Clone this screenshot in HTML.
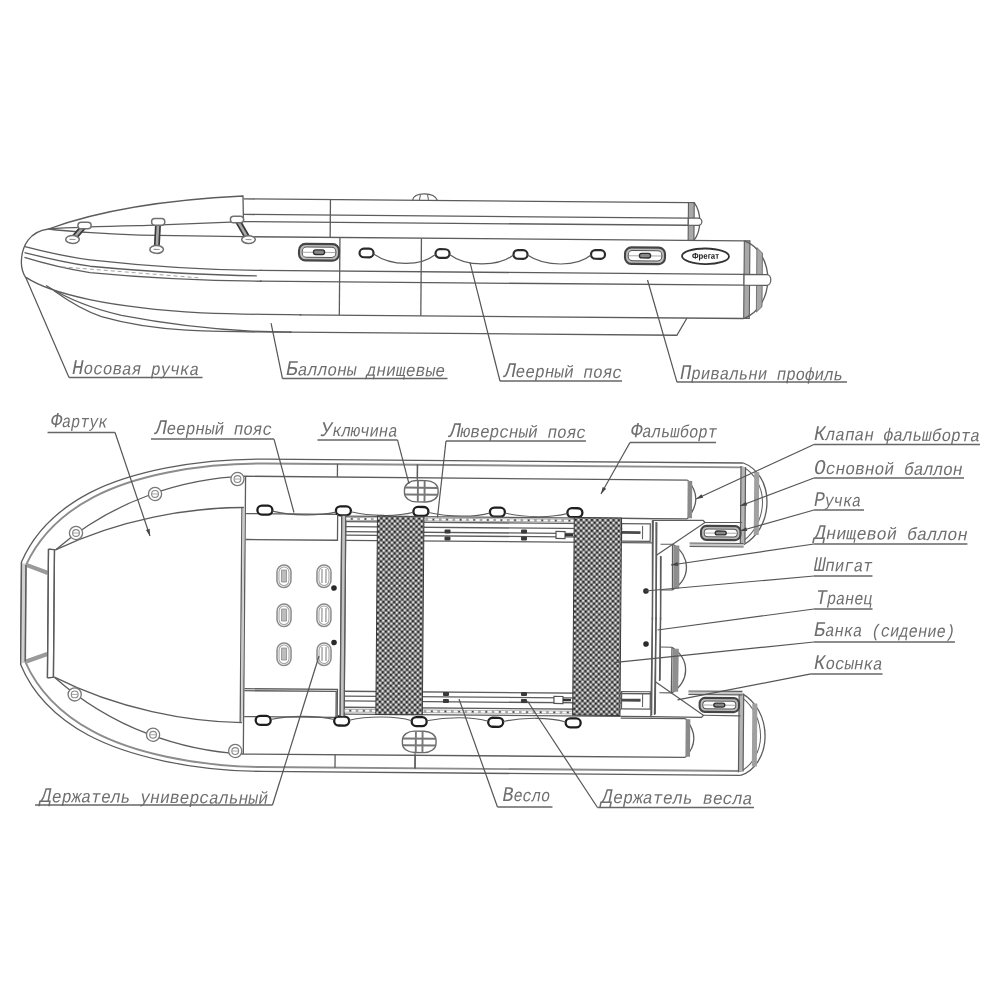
<!DOCTYPE html>
<html><head><meta charset="utf-8"><style>
html,body{margin:0;padding:0;background:#fff;width:1000px;height:1000px;overflow:hidden}
svg{display:block;filter:blur(0.35px)}
svg{font-family:"Liberation Sans",sans-serif}
.lb text{font-family:"Liberation Mono",monospace}
</style></head><body>
<svg width="1000" height="1000" viewBox="0 0 1000 1000">
<defs>
<pattern id="mesh" width="5.4" height="5.4" patternUnits="userSpaceOnUse">
<rect width="5.4" height="5.4" fill="#808080"/>
<rect x="0" y="0" width="1.6" height="1.6" fill="#f6f6f6"/>
<rect x="2.7" y="2.7" width="1.6" height="1.6" fill="#f6f6f6"/>
<rect x="2.7" y="0" width="1.6" height="1.6" fill="#1c1c1c"/>
<rect x="0" y="2.7" width="1.6" height="1.6" fill="#1c1c1c"/>
</pattern>
</defs>
<g transform="rotate(0.47 500 500)"><g><path d="M241 201 L686 201" stroke="#5c5c5c" stroke-width="1.3" fill="none" /><path d="M241 216.5 L686 216.5" stroke="#5c5c5c" stroke-width="1.3" fill="none" /><path d="M240 223.7 L686 223.7" stroke="#5c5c5c" stroke-width="1.3" fill="none" /><path d="M241 238.8 L742.2 238.8" stroke="#5c5c5c" stroke-width="1.3" fill="none" /><path d="M258 272.4 L742.2 272.4" stroke="#5c5c5c" stroke-width="1.3" fill="none" /><path d="M258 283.2 L742.2 283.2" stroke="#5c5c5c" stroke-width="1.3" fill="none" /><path d="M298 316.5 L742.2 316.5" stroke="#5c5c5c" stroke-width="1.3" fill="none" /><path d="M288 333.8 L675.5 333.8 L685.5 316.5" stroke="#5c5c5c" stroke-width="1.3" fill="none" /><rect x="686" y="201" width="5.8" height="37.8" fill="#a8a8a8" stroke="#5c5c5c" stroke-width="1.1"/><path d="M691.8 201 C695.5 206 697.5 212 697.5 219.9 C697.5 228 695.5 234 691.8 238.8" stroke="#5c5c5c" stroke-width="1.3" fill="none" /><path d="M686 216.5 L696 216.5 A3.6 3.6 0 0 1 696 223.7 L686 223.7 Z" fill="#fff" stroke="#5c5c5c" stroke-width="1.2"/><path d="M328 201 L328 238.8" stroke="#5c5c5c" stroke-width="1.3" fill="none" /><path d="M410 201 C411 196 415 194.5 422 194.5 C429 194.5 433 196 435 201" stroke="#5c5c5c" stroke-width="1.1" fill="none" /><path d="M418 195 L417 200.5 M425 195 L426 200.5" stroke="#5c5c5c" stroke-width="1.0" fill="none" /><path d="M337.8 238.8 L337.8 316.5" stroke="#5c5c5c" stroke-width="1.3" fill="none" /><path d="M419.3 238.8 L419.3 316.5" stroke="#5c5c5c" stroke-width="1.3" fill="none" /><rect x="742.2" y="238.8" width="5.6" height="77.7" fill="#a8a8a8" stroke="#5c5c5c" stroke-width="1.1"/><path d="M742.2 238.8 C757 244 766 260 766 277.6 C766 295 757 311 742.2 316.5" stroke="#5c5c5c" stroke-width="1.3" fill="none" /><path d="M754.8 245.5 L760.4 251 L760.4 304.5 L754.8 310 Z" fill="#a8a8a8" stroke="#6a6a6a" stroke-width="0.9"/><path d="M742.2 272.4 L765 272.4 A4 5.4 0 0 1 765 283.2 L742.2 283.2 Z" fill="#fff" stroke="#5c5c5c" stroke-width="1.2"/><path d="M46.2 232.7 C76 221.5 136 204 240.5 198.1 L241.2 223.7" stroke="#5c5c5c" stroke-width="1.3" fill="none" /><path d="M46.2 232.7 C37 234 30 238.5 26 244 C21.5 250 19.5 258 19.4 265.9 C19.4 272 21.5 278 24.2 282.1" stroke="#5c5c5c" stroke-width="1.3" fill="none" /><path d="M46.2 232.7 C75 230.5 110 229.5 140 228.6 L241 223.7" stroke="#5c5c5c" stroke-width="1.3" fill="none" /><path d="M46.2 232.7 C65 235 110 237.5 137.8 238 L241 238.8" stroke="#5c5c5c" stroke-width="1.3" fill="none" /><path d="M22.9 250.5 C45 256 65 260.5 88 263.2 C140 268.5 200 272.4 260 272.4" stroke="#5c5c5c" stroke-width="1.3" fill="none" /><path d="M22.5 256.5 C45 262 65 266.5 88.1 269.6 C140 274 200 277.5 255 277.8" stroke="#5c5c5c" stroke-width="1.3" fill="none" /><path d="M22.5 261.3 C45 268 65 272.5 88.1 276 C140 280.5 200 283.2 260 283.2" stroke="#5c5c5c" stroke-width="1.3" fill="none" /><path d="M60 270.5 L200 280.5" stroke="#9a9a9a" stroke-width="0.9" fill="none" stroke-dasharray="4 3"/><path d="M24.2 281.3 C50 298 110 311 200 315.3 C240 316.5 270 316.5 300 316.5" stroke="#5c5c5c" stroke-width="1.3" fill="none" /><path d="M44.3 289.3 C65 302 90 312 120 318.5 C150 324 200 331 250 333.2 C270 333.8 280 333.8 290 333.8" stroke="#5c5c5c" stroke-width="1.3" fill="none" /><path d="M52.3 294.5 C70 307 85 315 100 320 C125 327 150 331 185 332.8 C230 334.5 260 334 290 333.8" stroke="#5c5c5c" stroke-width="1.3" fill="none" /><path d="M82.3 228.9 L70.4 243.0" stroke="#3a3a3a" stroke-width="6" fill="none"/><path d="M82.3 228.9 L70.4 243.0" stroke="#a8a8a8" stroke-width="2.6" fill="none"/><rect x="75.7" y="225.6" width="13.2" height="6.6" rx="3.3" fill="#fff" stroke="#707070" stroke-width="1.5"/><ellipse cx="70.4" cy="243.0" rx="6.8" ry="3.9" fill="#fff" stroke="#707070" stroke-width="1.5"/><path d="M67.4 243.0 L73.4 243.0" stroke="#999" stroke-width="1.2"/><path d="M155.9 224.7 L154.6 252.3" stroke="#3a3a3a" stroke-width="6" fill="none"/><path d="M155.9 224.7 L154.6 252.3" stroke="#a8a8a8" stroke-width="2.6" fill="none"/><rect x="149.3" y="221.4" width="13.2" height="6.6" rx="3.3" fill="#fff" stroke="#707070" stroke-width="1.5"/><ellipse cx="154.6" cy="252.3" rx="6.8" ry="3.9" fill="#fff" stroke="#707070" stroke-width="1.5"/><path d="M151.6 252.3 L157.6 252.3" stroke="#999" stroke-width="1.2"/><path d="M234.7 221.7 L246.4 241.6" stroke="#3a3a3a" stroke-width="6" fill="none"/><path d="M234.7 221.7 L246.4 241.6" stroke="#a8a8a8" stroke-width="2.6" fill="none"/><rect x="228.1" y="218.4" width="13.2" height="6.6" rx="3.3" fill="#fff" stroke="#707070" stroke-width="1.5"/><ellipse cx="246.4" cy="241.6" rx="6.8" ry="3.9" fill="#fff" stroke="#707070" stroke-width="1.5"/><path d="M243.4 241.6 L249.4 241.6" stroke="#999" stroke-width="1.2"/><rect x="297.0" y="245.5" width="40.0" height="16.5" rx="6.3" fill="#bdbdbd" stroke="#454545" stroke-width="2.1"/><rect x="300.2" y="248.7" width="33.6" height="10.1" rx="4.1" fill="#fff" stroke="#555" stroke-width="1"/><path d="M301.0 253.8 L333.0 253.8" stroke="#aaa" stroke-width="1"/><rect x="311.4" y="251.4" width="11.2" height="4.6" rx="2.3" fill="#888" stroke="#2e2e2e" stroke-width="1.3"/><rect x="623.0" y="246.3" width="40.0" height="16.5" rx="6.3" fill="#bdbdbd" stroke="#454545" stroke-width="2.1"/><rect x="626.2" y="249.5" width="33.6" height="10.1" rx="4.1" fill="#fff" stroke="#555" stroke-width="1"/><path d="M627.0 254.6 L659.0 254.6" stroke="#aaa" stroke-width="1"/><rect x="637.4" y="252.2" width="11.2" height="4.6" rx="2.3" fill="#888" stroke="#2e2e2e" stroke-width="1.3"/><ellipse cx="703.5" cy="254.6" rx="23.5" ry="7.8" fill="#fff" stroke="#333" stroke-width="1.8"/><text x="703.5" y="257.1" font-size="8.5" font-weight="bold" text-anchor="middle" fill="#1a1a1a" textLength="27" lengthAdjust="spacingAndGlyphs">Фрегат</text><rect x="357.5" y="249.8" width="14" height="8.6" rx="4.3" fill="#fff" stroke="#2a2a2a" stroke-width="2.2"/><rect x="433.5" y="249.7" width="14" height="8.6" rx="4.3" fill="#fff" stroke="#2a2a2a" stroke-width="2.2"/><rect x="511.5" y="250.0" width="14" height="8.6" rx="4.3" fill="#fff" stroke="#2a2a2a" stroke-width="2.2"/><rect x="589.0" y="249.4" width="14" height="8.6" rx="4.3" fill="#fff" stroke="#2a2a2a" stroke-width="2.2"/><path d="M 371.5 255.0 C 390.1 267.4 418.1 267.2 433.5 255.0" stroke="#5c5c5c" stroke-width="1.2" fill="none" /><path d="M 447.5 254.9 C 464.1 267.3 496.1 267.0 511.5 254.9" stroke="#5c5c5c" stroke-width="1.2" fill="none" /><path d="M 525.5 254.8 C 543.1 266.6 575.1 266.4 589.0 254.3" stroke="#5c5c5c" stroke-width="1.2" fill="none" /></g><g><path d="M743 461 L265 461 C195 461 130 475 90 496 C60 512 35 535 22 566 L22 617.2" stroke="#5c5c5c" stroke-width="1.3" fill="none" /><path d="M743 465.4 L265 465.4 C197 465.4 133 479.2 94 500.2 C64 516.2 40 539.2 26.5 569 L26.5 617.2" stroke="#8c8c8c" stroke-width="1.9" fill="none" /><path d="M743 461 C757 466 767 481 767 500 C767 520 757 535 744 542.8" stroke="#5c5c5c" stroke-width="1.3" fill="none" /><path d="M743 465.2 C753 470 762.5 484 762.5 500 C762.5 517 754 531 744 538.5" stroke="#5c5c5c" stroke-width="1.0" fill="none" /><path d="M743 465 L743 541.5" stroke="#b4b4b4" stroke-width="4.4" fill="none" /><path d="M740.7 464 L740.7 542.8 M745.3 465 L745.3 541.5" stroke="#5c5c5c" stroke-width="1.2" fill="none" /><path d="M756.5 470 L756.5 533" stroke="#a0a0a0" stroke-width="5" fill="none" /><path d="M690 543.2 L744 543.2" stroke="#c4c4c4" stroke-width="3.2" fill="none" /><path d="M690 541.5 L744 541.5 M690 545 L744 545" stroke="#5c5c5c" stroke-width="1.1" fill="none" /><path d="M687.4 478.6 L245 478.3 C185 481 115 502 55.9 553.6" stroke="#5c5c5c" stroke-width="1.3" fill="none" /><path d="M244 509.6 C190 510 120 522 55.9 553.6" stroke="#5c5c5c" stroke-width="1.3" fill="none" /><path d="M687.4 478.6 C692.5 484 695.8 490 695.8 497.5 C695.8 505 692.5 511 687.4 517.3" stroke="#5c5c5c" stroke-width="1.3" fill="none" /><path d="M689.8 479.3 L689.8 516.6" stroke="#8a8a8a" stroke-width="4.6" fill="none" /><path d="M622.5 517.3 L687.4 517.3" stroke="#5c5c5c" stroke-width="1.3" fill="none" /><circle cx="237.3" cy="481.2" r="6.6" fill="#fff" stroke="#777" stroke-width="1.3"/><circle cx="237.3" cy="481.2" r="3.4" fill="none" stroke="#888" stroke-width="1.1"/><path d="M234.3 481.2 L240.3 481.2" stroke="#909090" stroke-width="0.8"/><circle cx="155.0" cy="496.8" r="6.6" fill="#fff" stroke="#777" stroke-width="1.3"/><circle cx="155.0" cy="496.8" r="3.4" fill="none" stroke="#888" stroke-width="1.1"/><path d="M152.0 496.8 L158.0 496.8" stroke="#909090" stroke-width="0.8"/><circle cx="76.3" cy="536.5" r="6.6" fill="#fff" stroke="#777" stroke-width="1.3"/><circle cx="76.3" cy="536.5" r="3.4" fill="none" stroke="#888" stroke-width="1.1"/><path d="M73.3 536.5 L79.3 536.5" stroke="#909090" stroke-width="0.8"/><path d="M337.2 465.2 L337.2 478.3 M417.2 465.2 L417.2 478.3" stroke="#5c5c5c" stroke-width="1.3" fill="none" /><path d="M246 515.7 L337.8 515.7" stroke="#5c5c5c" stroke-width="1.3" fill="none" /><rect x="257.5" y="507.6" width="15" height="9" rx="4.5" fill="#fff" stroke="#1e1e1e" stroke-width="2.3"/><rect x="336.0" y="507.6" width="15" height="9" rx="4.5" fill="#fff" stroke="#1e1e1e" stroke-width="2.3"/><rect x="413.5" y="507.6" width="15" height="9" rx="4.5" fill="#fff" stroke="#1e1e1e" stroke-width="2.3"/><rect x="490.0" y="507.6" width="15" height="9" rx="4.5" fill="#fff" stroke="#1e1e1e" stroke-width="2.3"/><rect x="567.5" y="507.6" width="15" height="9" rx="4.5" fill="#fff" stroke="#1e1e1e" stroke-width="2.3"/><path d="M272.5 513 C292 517.5 318 517.5 336 513.5" stroke="#5c5c5c" stroke-width="1.1" fill="none" /><path d="M351 513 C370 517.5 398 517.5 413.5 513" stroke="#5c5c5c" stroke-width="1.1" fill="none" /><path d="M428.5 513 C450 517.5 475 517.5 490 513" stroke="#5c5c5c" stroke-width="1.1" fill="none" /><path d="M505 513 C525 517.5 552 517.5 567.5 513" stroke="#5c5c5c" stroke-width="1.1" fill="none" /><path d="M246 541.6 L337.8 541.6 L337.8 515.7" stroke="#5c5c5c" stroke-width="1.3" fill="none" /><path d="M48.9 552.7 L48.9 617.2 M54.9 554 L54.9 617.2 M48.9 552.7 L55.9 553.6" stroke="#5c5c5c" stroke-width="1.3" fill="none" /><path d="M27.5 569 L48.6 576.7" stroke="#9a9a9a" stroke-width="4.2" fill="none" /><path d="M341.9 517 L341.9 617.2 M345.9 517 L345.9 617.2" stroke="#5c5c5c" stroke-width="1.3" fill="none" /><path d="M417.2 465.2 L417.2 480.5" stroke="#5c5c5c" stroke-width="1.3" fill="none" /><rect x="404.4" y="481.2" width="33.6" height="21.4" rx="12" ry="9" fill="#fff" stroke="#6a6a6a" stroke-width="1.4"/><path d="M404.8 488.4 L437.6 488.4 M404.8 495.2 L437.6 495.2" stroke="#777" stroke-width="2.0" fill="none" /><path d="M417.8 481.5 L417.8 502.3 M424.5 481.5 L424.5 502.3" stroke="#777" stroke-width="1.9" fill="none" /><path d="M 652.6 519.1 L 703.2 518.7 L 705.2 520.8 L 656.5 554.2" stroke="#5c5c5c" stroke-width="1.3" fill="none" /><path d="M 652.6 519.1 L 653.4 618.7 M 656.2 520.7 L 657.0 618.7" stroke="#5c5c5c" stroke-width="1.3" fill="none" /><path d="M 661.0 554.7 L 661.5 618.7" stroke="#5c5c5c" stroke-width="1.3" fill="none" /><path d="M 705.2 520.8 L 742.2 520.5" stroke="#5c5c5c" stroke-width="1.1" fill="none" /><path d="M 672.9 542.6 L 673.2 588.6 M 672.9 542.6 C 682.4 548.5 687.0 557.5 687.0 565.5 C 687.1 574.5 682.7 582.5 673.2 588.6" stroke="#5c5c5c" stroke-width="1.3" fill="none" /><path d="M 676.7 544.1 L 677.0 587.1" stroke="#8e8e8e" stroke-width="6" fill="none" /><path d="M 660.9 543.0 L 672.9 542.9 M 661.2 588.7 L 673.2 588.6" stroke="#5c5c5c" stroke-width="1.1" fill="none" /><rect x="701.3" y="524.2" width="39.4" height="14.0" rx="5.3" fill="#bdbdbd" stroke="#454545" stroke-width="2.1"/><rect x="704.5" y="527.4" width="33.0" height="7.6" rx="3.5" fill="#fff" stroke="#555" stroke-width="1"/><path d="M705.3 531.2 L736.7 531.2" stroke="#aaa" stroke-width="1"/><rect x="715.5" y="529.2" width="11.0" height="3.9" rx="2.0" fill="#888" stroke="#2e2e2e" stroke-width="1.3"/></g><g transform="translate(0 1234.4) scale(1 -1)"><path d="M743 461 L265 461 C195 461 130 475 90 496 C60 512 35 535 22 566 L22 617.2" stroke="#5c5c5c" stroke-width="1.3" fill="none" /><path d="M743 465.4 L265 465.4 C197 465.4 133 479.2 94 500.2 C64 516.2 40 539.2 26.5 569 L26.5 617.2" stroke="#8c8c8c" stroke-width="1.9" fill="none" /><path d="M743 461 C757 466 767 481 767 500 C767 520 757 535 744 542.8" stroke="#5c5c5c" stroke-width="1.3" fill="none" /><path d="M743 465.2 C753 470 762.5 484 762.5 500 C762.5 517 754 531 744 538.5" stroke="#5c5c5c" stroke-width="1.0" fill="none" /><path d="M743 465 L743 541.5" stroke="#b4b4b4" stroke-width="4.4" fill="none" /><path d="M740.7 464 L740.7 542.8 M745.3 465 L745.3 541.5" stroke="#5c5c5c" stroke-width="1.2" fill="none" /><path d="M756.5 470 L756.5 533" stroke="#a0a0a0" stroke-width="5" fill="none" /><path d="M690 543.2 L744 543.2" stroke="#c4c4c4" stroke-width="3.2" fill="none" /><path d="M690 541.5 L744 541.5 M690 545 L744 545" stroke="#5c5c5c" stroke-width="1.1" fill="none" /><path d="M687.4 478.6 L245 478.3 C185 481 115 502 55.9 553.6" stroke="#5c5c5c" stroke-width="1.3" fill="none" /><path d="M244 509.6 C190 510 120 522 55.9 553.6" stroke="#5c5c5c" stroke-width="1.3" fill="none" /><path d="M687.4 478.6 C692.5 484 695.8 490 695.8 497.5 C695.8 505 692.5 511 687.4 517.3" stroke="#5c5c5c" stroke-width="1.3" fill="none" /><path d="M689.8 479.3 L689.8 516.6" stroke="#8a8a8a" stroke-width="4.6" fill="none" /><path d="M622.5 517.3 L687.4 517.3" stroke="#5c5c5c" stroke-width="1.3" fill="none" /><circle cx="237.3" cy="481.2" r="6.6" fill="#fff" stroke="#777" stroke-width="1.3"/><circle cx="237.3" cy="481.2" r="3.4" fill="none" stroke="#888" stroke-width="1.1"/><path d="M234.3 481.2 L240.3 481.2" stroke="#909090" stroke-width="0.8"/><circle cx="155.0" cy="496.8" r="6.6" fill="#fff" stroke="#777" stroke-width="1.3"/><circle cx="155.0" cy="496.8" r="3.4" fill="none" stroke="#888" stroke-width="1.1"/><path d="M152.0 496.8 L158.0 496.8" stroke="#909090" stroke-width="0.8"/><circle cx="76.3" cy="536.5" r="6.6" fill="#fff" stroke="#777" stroke-width="1.3"/><circle cx="76.3" cy="536.5" r="3.4" fill="none" stroke="#888" stroke-width="1.1"/><path d="M73.3 536.5 L79.3 536.5" stroke="#909090" stroke-width="0.8"/><path d="M337.2 465.2 L337.2 478.3 M417.2 465.2 L417.2 478.3" stroke="#5c5c5c" stroke-width="1.3" fill="none" /><path d="M246 515.7 L337.8 515.7" stroke="#5c5c5c" stroke-width="1.3" fill="none" /><rect x="257.5" y="507.6" width="15" height="9" rx="4.5" fill="#fff" stroke="#1e1e1e" stroke-width="2.3"/><rect x="336.0" y="507.6" width="15" height="9" rx="4.5" fill="#fff" stroke="#1e1e1e" stroke-width="2.3"/><rect x="413.5" y="507.6" width="15" height="9" rx="4.5" fill="#fff" stroke="#1e1e1e" stroke-width="2.3"/><rect x="490.0" y="507.6" width="15" height="9" rx="4.5" fill="#fff" stroke="#1e1e1e" stroke-width="2.3"/><rect x="567.5" y="507.6" width="15" height="9" rx="4.5" fill="#fff" stroke="#1e1e1e" stroke-width="2.3"/><path d="M272.5 513 C292 517.5 318 517.5 336 513.5" stroke="#5c5c5c" stroke-width="1.1" fill="none" /><path d="M351 513 C370 517.5 398 517.5 413.5 513" stroke="#5c5c5c" stroke-width="1.1" fill="none" /><path d="M428.5 513 C450 517.5 475 517.5 490 513" stroke="#5c5c5c" stroke-width="1.1" fill="none" /><path d="M505 513 C525 517.5 552 517.5 567.5 513" stroke="#5c5c5c" stroke-width="1.1" fill="none" /><path d="M246 541.6 L337.8 541.6 L337.8 515.7" stroke="#5c5c5c" stroke-width="1.3" fill="none" /><path d="M48.9 552.7 L48.9 617.2 M54.9 554 L54.9 617.2 M48.9 552.7 L55.9 553.6" stroke="#5c5c5c" stroke-width="1.3" fill="none" /><path d="M27.5 569 L48.6 576.7" stroke="#9a9a9a" stroke-width="4.2" fill="none" /><path d="M341.9 517 L341.9 617.2 M345.9 517 L345.9 617.2" stroke="#5c5c5c" stroke-width="1.3" fill="none" /><path d="M417.2 465.2 L417.2 480.5" stroke="#5c5c5c" stroke-width="1.3" fill="none" /><rect x="404.4" y="481.2" width="33.6" height="21.4" rx="12" ry="9" fill="#fff" stroke="#6a6a6a" stroke-width="1.4"/><path d="M404.8 488.4 L437.6 488.4 M404.8 495.2 L437.6 495.2" stroke="#777" stroke-width="2.0" fill="none" /><path d="M417.8 481.5 L417.8 502.3 M424.5 481.5 L424.5 502.3" stroke="#777" stroke-width="1.9" fill="none" /><path d="M 652.6 519.1 L 703.2 518.7 L 705.2 520.8 L 656.5 554.2" stroke="#5c5c5c" stroke-width="1.3" fill="none" /><path d="M 652.6 519.1 L 653.4 618.7 M 656.2 520.7 L 657.0 618.7" stroke="#5c5c5c" stroke-width="1.3" fill="none" /><path d="M 661.0 554.7 L 661.5 618.7" stroke="#5c5c5c" stroke-width="1.3" fill="none" /><path d="M 705.2 520.8 L 742.2 520.5" stroke="#5c5c5c" stroke-width="1.1" fill="none" /><path d="M 672.9 542.6 L 673.2 588.6 M 672.9 542.6 C 682.4 548.5 687.0 557.5 687.0 565.5 C 687.1 574.5 682.7 582.5 673.2 588.6" stroke="#5c5c5c" stroke-width="1.3" fill="none" /><path d="M 676.7 544.1 L 677.0 587.1" stroke="#8e8e8e" stroke-width="6" fill="none" /><path d="M 660.9 543.0 L 672.9 542.9 M 661.2 588.7 L 673.2 588.6" stroke="#5c5c5c" stroke-width="1.1" fill="none" /><rect x="701.3" y="524.2" width="39.4" height="14.0" rx="5.3" fill="#bdbdbd" stroke="#454545" stroke-width="2.1"/><rect x="704.5" y="527.4" width="33.0" height="7.6" rx="3.5" fill="#fff" stroke="#555" stroke-width="1"/><path d="M705.3 531.2 L736.7 531.2" stroke="#aaa" stroke-width="1"/><rect x="715.5" y="529.2" width="11.0" height="3.9" rx="2.0" fill="#888" stroke="#2e2e2e" stroke-width="1.3"/></g><g><path d="M24.2 567.5 L24.2 666.9" stroke="#d0d0d0" stroke-width="3.6" fill="none" /><path d="M22 566 L22 668.4 M26.5 569 L26.5 665.4" stroke="#5c5c5c" stroke-width="1.3" fill="none" /><path d="M48.9 552.7 L48.9 681.7 M54.9 554 L54.9 680.4" stroke="#5c5c5c" stroke-width="1.3" fill="none" /><path d="M242 509.6 L242 724.8 M245.4 478.3 L245.4 756.1" stroke="#5c5c5c" stroke-width="1.3" fill="none" /><path d="M243.7 510 L243.7 724.4" stroke="#c8c8c8" stroke-width="1.6" fill="none" /><path d="M343.9 517 L343.9 717.4" stroke="#c4c4c4" stroke-width="3.2" fill="none" /><path d="M341.9 517 L341.9 717.4 M345.9 517 L345.9 717.4" stroke="#5c5c5c" stroke-width="1.3" fill="none" /><path d="M653.4 519 L653.4 714 M657 521 L657 713 M661.5 555 L661.5 679" stroke="#5c5c5c" stroke-width="1.3" fill="none" /><path d="M345.9 517.3 L622.5 517.3" stroke="#5c5c5c" stroke-width="1.3" fill="none" /><path d="M345.9 522.9 L622.5 522.9" stroke="#5c5c5c" stroke-width="1.3" fill="none" /><path d="M345.9 527.9 L622.5 527.9" stroke="#5c5c5c" stroke-width="1.3" fill="none" /><path d="M345.9 532.9 L622.5 532.9" stroke="#5c5c5c" stroke-width="1.3" fill="none" /><path d="M345.9 536.4 L622.5 536.4" stroke="#5c5c5c" stroke-width="1.3" fill="none" /><path d="M345.9 541.6 L622.5 541.6" stroke="#5c5c5c" stroke-width="1.3" fill="none" /><path d="M622.5 517.3 L653.4 517.3 M622.5 541.6 L653.4 541.6" stroke="#5c5c5c" stroke-width="1.3" fill="none" /><path d="M346.5 520.1 L622 520.1" stroke="#a4a4a4" stroke-width="3.6" fill="none" /><path d="M346.5 520.1 L622 520.1" stroke="#fafafa" stroke-width="2.0" fill="none" stroke-dasharray="4.2 2.6"/><path d="M346.5 520.1 L622 520.1" stroke="#3c3c3c" stroke-width="1.3" fill="none" stroke-dasharray="1.2 12.4" stroke-dashoffset="-4.9"/><path d="M345.9 692.5 L622.5 692.5" stroke="#5c5c5c" stroke-width="1.3" fill="none" /><path d="M345.9 697.3 L622.5 697.3" stroke="#5c5c5c" stroke-width="1.3" fill="none" /><path d="M345.9 702.2 L622.5 702.2" stroke="#5c5c5c" stroke-width="1.3" fill="none" /><path d="M345.9 708.5 L622.5 708.5" stroke="#5c5c5c" stroke-width="1.3" fill="none" /><path d="M345.9 715.3 L622.5 715.3" stroke="#5c5c5c" stroke-width="1.3" fill="none" /><path d="M622.5 692.5 L653.4 692.5 M622.5 715.3 L653.4 715.3" stroke="#5c5c5c" stroke-width="1.3" fill="none" /><path d="M346.5 711.9 L622 711.9" stroke="#a4a4a4" stroke-width="3.6" fill="none" /><path d="M346.5 711.9 L622 711.9" stroke="#fafafa" stroke-width="2.0" fill="none" stroke-dasharray="4.2 2.6"/><path d="M346.5 711.9 L622 711.9" stroke="#3c3c3c" stroke-width="1.3" fill="none" stroke-dasharray="1.2 12.4" stroke-dashoffset="-4.9"/><path d="M246 690.8 L339 690.8 L339 718.6" stroke="#5c5c5c" stroke-width="1.3" fill="none" /><rect x="444.8" y="529.9" width="6" height="4" rx="1" fill="#3a3a3a"/><rect x="444.8" y="536.9" width="6" height="4" rx="1" fill="#3a3a3a"/><rect x="521.3" y="529.3" width="6" height="4" rx="1" fill="#3a3a3a"/><rect x="521.3" y="536.3" width="6" height="4" rx="1" fill="#3a3a3a"/><rect x="444.6" y="692.4" width="6" height="4" rx="1" fill="#3a3a3a"/><rect x="444.6" y="699.4" width="6" height="4" rx="1" fill="#3a3a3a"/><rect x="522.6" y="691.8" width="6" height="4" rx="1" fill="#3a3a3a"/><rect x="522.6" y="698.8" width="6" height="4" rx="1" fill="#3a3a3a"/><rect x="556.3" y="531.0" width="9" height="7" fill="#fff" stroke="#555" stroke-width="1.2"/><path d="M565.3 534.5 L573.3 534.5" stroke="#333" stroke-width="2.4"/><rect x="555.6" y="696.0" width="9" height="7" fill="#fff" stroke="#555" stroke-width="1.2"/><path d="M564.6 699.5 L572.6 699.5" stroke="#333" stroke-width="2.4"/><rect x="621.8" y="522.7" width="28.7" height="17.4" fill="none" stroke="#5c5c5c" stroke-width="1.2"/><path d="M621.8 531.4 L640.8 531.4" stroke="#4a4a4a" stroke-width="2.8"/><path d="M642.8 524.7 L642.8 538.1" stroke="#666" stroke-width="1.1"/><rect x="623.2" y="690.5" width="28.7" height="17.3" fill="none" stroke="#5c5c5c" stroke-width="1.2"/><path d="M623.2 699.1 L642.2 699.1" stroke="#4a4a4a" stroke-width="2.8"/><path d="M644.2 692.5 L644.2 705.8" stroke="#666" stroke-width="1.1"/><rect x="377.6" y="517.0" width="46.5" height="198.5" fill="url(#mesh)" stroke="#3a3a3a" stroke-width="1"/><rect x="574.4" y="516.9" width="47.3" height="197.5" fill="url(#mesh)" stroke="#3a3a3a" stroke-width="1"/><rect x="277.6" y="566.8" width="14" height="22.5" rx="7" fill="#fff" stroke="#8a8a8a" stroke-width="1.5"/><rect x="279.6" y="568.8" width="10" height="18.5" rx="5" fill="none" stroke="#a0a0a0" stroke-width="1"/><rect x="282.1" y="571.8" width="5" height="12" fill="#bdbdbd" stroke="#8a8a8a" stroke-width="0.8"/><rect x="278.0" y="605.8" width="14" height="22.5" rx="7" fill="#fff" stroke="#8a8a8a" stroke-width="1.5"/><rect x="280.0" y="607.8" width="10" height="18.5" rx="5" fill="none" stroke="#a0a0a0" stroke-width="1"/><rect x="282.5" y="610.8" width="5" height="12" fill="#bdbdbd" stroke="#8a8a8a" stroke-width="0.8"/><rect x="278.3" y="644.8" width="14" height="22.5" rx="7" fill="#fff" stroke="#8a8a8a" stroke-width="1.5"/><rect x="280.3" y="646.8" width="10" height="18.5" rx="5" fill="none" stroke="#a0a0a0" stroke-width="1"/><rect x="282.8" y="649.8" width="5" height="12" fill="#bdbdbd" stroke="#8a8a8a" stroke-width="0.8"/><rect x="317.6" y="566.4" width="14" height="22.5" rx="7" fill="#fff" stroke="#8a8a8a" stroke-width="1.5"/><rect x="319.6" y="568.4" width="10" height="18.5" rx="5" fill="none" stroke="#a0a0a0" stroke-width="1"/><path d="M322.6 570.4 L322.6 584.4 M326.6 570.4 L326.6 584.4" stroke="#888" stroke-width="1.1"/><rect x="317.9" y="605.4" width="14" height="22.5" rx="7" fill="#fff" stroke="#8a8a8a" stroke-width="1.5"/><rect x="319.9" y="607.4" width="10" height="18.5" rx="5" fill="none" stroke="#a0a0a0" stroke-width="1"/><path d="M322.9 609.4 L322.9 623.4 M326.9 609.4 L326.9 623.4" stroke="#888" stroke-width="1.1"/><rect x="318.3" y="644.4" width="14" height="22.5" rx="7" fill="#fff" stroke="#8a8a8a" stroke-width="1.5"/><rect x="320.3" y="646.4" width="10" height="18.5" rx="5" fill="none" stroke="#a0a0a0" stroke-width="1"/><path d="M323.3 648.4 L323.3 662.4 M327.3 648.4 L327.3 662.4" stroke="#888" stroke-width="1.1"/><circle cx="334.7" cy="589.4" r="2.8" fill="#2a2a2a"/><circle cx="335.2" cy="643.9" r="2.8" fill="#2a2a2a"/><circle cx="646.7" cy="589.8" r="2.8" fill="#2a2a2a"/><circle cx="647.2" cy="642.8" r="2.8" fill="#2a2a2a"/></g><g class="lb" fill="#6e6e6e" font-style="italic"><text x="71.0" y="377.5" font-size="17.5" textLength="127.0" lengthAdjust="spacingAndGlyphs"><tspan font-size="21.0">Н</tspan>осовая ручка</text><path d="M 68.0 381.0 L 201.5 379.9" stroke="#666" stroke-width="1.4" fill="none" /><path d="M 24.2 281.9 L 68.0 381.0" stroke="#555" stroke-width="1.2" fill="none" /><text x="285.0" y="376.8" font-size="17.5" textLength="159.0" lengthAdjust="spacingAndGlyphs"><tspan font-size="21.0">Б</tspan>аллоны днищевые</text><path d="M 281.5 380.3 L 446.5 378.9" stroke="#666" stroke-width="1.4" fill="none" /><path d="M 269.6 324.9 L 281.5 380.3" stroke="#555" stroke-width="1.2" fill="none" /><text x="503.0" y="377.0" font-size="17.5" textLength="118.0" lengthAdjust="spacingAndGlyphs"><tspan font-size="21.0">Л</tspan>еерный пояс</text><path d="M 499.0 381.0 L 621.0 380.0" stroke="#666" stroke-width="1.4" fill="none" /><path d="M 468.1 262.8 L 499.0 381.0" stroke="#555" stroke-width="1.2" fill="none" /><text x="679.0" y="377.5" font-size="17.5" textLength="163.0" lengthAdjust="spacingAndGlyphs"><tspan font-size="21.0">П</tspan>ривальни профиль</text><path d="M 676.0 380.6 L 846.0 379.2" stroke="#666" stroke-width="1.4" fill="none" /><path d="M 645.7 278.8 L 676.0 380.6" stroke="#555" stroke-width="1.2" fill="none" /><text x="50.4" y="430.7" font-size="17.5" textLength="56.5" lengthAdjust="spacingAndGlyphs"><tspan font-size="21.0">Ф</tspan>артук</text><path d="M 47.0 436.2 L 114.5 435.7" stroke="#666" stroke-width="1.4" fill="none" /><path d="M 114.5 435.7 L 150.3 538.9" stroke="#555" stroke-width="1.2" fill="none" /><path d="M 150.3 538.9 L 146.2 532.9 L 149.9 531.6 Z" fill="#444"/><text x="154.5" y="436.8" font-size="17.5" textLength="117.0" lengthAdjust="spacingAndGlyphs"><tspan font-size="21.0">Л</tspan>еерный пояс</text><path d="M 150.5 441.9 L 273.5 440.9" stroke="#666" stroke-width="1.4" fill="none" /><path d="M 273.5 440.9 L 294.1 514.2" stroke="#555" stroke-width="1.2" fill="none" /><text x="320.5" y="437.5" font-size="17.5" textLength="76.5" lengthAdjust="spacingAndGlyphs"><tspan font-size="21.0">У</tspan>ключина</text><path d="M 317.0 441.5 L 397.0 440.8" stroke="#666" stroke-width="1.4" fill="none" /><path d="M 397.0 440.8 L 408.9 484.7" stroke="#555" stroke-width="1.2" fill="none" /><text x="448.5" y="437.4" font-size="17.5" textLength="137.0" lengthAdjust="spacingAndGlyphs"><tspan font-size="21.0">Л</tspan>юверсный пояс</text><path d="M 445.5 441.4 L 585.5 440.3" stroke="#666" stroke-width="1.4" fill="none" /><path d="M 445.5 441.4 L 437.6 518.0" stroke="#555" stroke-width="1.2" fill="none" /><text x="630.5" y="435.9" font-size="17.5" textLength="86.0" lengthAdjust="spacingAndGlyphs"><tspan font-size="21.0">Ф</tspan>альшборт</text><path d="M 629.5 441.4 L 715.5 440.7" stroke="#666" stroke-width="1.4" fill="none" /><path d="M 629.5 441.4 L 600.9 493.2" stroke="#555" stroke-width="1.2" fill="none" /><path d="M 600.9 493.2 L 602.6 486.1 L 606.1 488.0 Z" fill="#444"/><text x="813.5" y="437.4" font-size="17.5" textLength="166.0" lengthAdjust="spacingAndGlyphs"><tspan font-size="21.0">К</tspan>лапан фальшборта</text><path d="M 813.5 441.9 L 979.5 440.6" stroke="#666" stroke-width="1.4" fill="none" /><path d="M 813.5 441.9 L 696.0 497.4" stroke="#555" stroke-width="1.2" fill="none" /><path d="M 696.0 497.4 L 701.4 492.5 L 703.2 496.2 Z" fill="#444"/><text x="813.8" y="471.4" font-size="17.5" textLength="148.5" lengthAdjust="spacingAndGlyphs"><tspan font-size="21.0">О</tspan>сновной баллон</text><path d="M 813.8 475.4 L 963.8 474.2" stroke="#666" stroke-width="1.4" fill="none" /><path d="M 813.8 475.4 L 740.0 504.0" stroke="#555" stroke-width="1.2" fill="none" /><path d="M 740.0 504.0 L 745.8 499.7 L 747.3 503.4 Z" fill="#444"/><text x="814.0" y="503.4" font-size="17.5" textLength="47.0" lengthAdjust="spacingAndGlyphs"><tspan font-size="21.0">Р</tspan>учка</text><path d="M 814.1 507.4 L 864.1 507.0" stroke="#666" stroke-width="1.4" fill="none" /><path d="M 814.1 507.4 L 740.2 529.0" stroke="#555" stroke-width="1.2" fill="none" /><path d="M 740.2 529.0 L 746.4 525.2 L 747.5 529.0 Z" fill="#444"/><text x="814.3" y="536.4" font-size="17.5" textLength="153.5" lengthAdjust="spacingAndGlyphs"><tspan font-size="21.0">Д</tspan>нищевой баллон</text><path d="M 814.4 541.4 L 967.8 540.2" stroke="#666" stroke-width="1.4" fill="none" /><path d="M 814.4 541.4 L 671.5 563.6" stroke="#555" stroke-width="1.2" fill="none" /><path d="M 671.5 563.6 L 678.1 560.5 L 678.7 564.5 Z" fill="#444"/><text x="814.6" y="568.4" font-size="17.5" textLength="58.5" lengthAdjust="spacingAndGlyphs"><tspan font-size="21.0">Ш</tspan>пигат</text><path d="M 814.6 573.4 L 873.1 572.9" stroke="#666" stroke-width="1.4" fill="none" /><path d="M 814.6 573.4 L 645.7 589.8" stroke="#555" stroke-width="1.2" fill="none" /><text x="816.8" y="601.4" font-size="17.5" textLength="56.5" lengthAdjust="spacingAndGlyphs"><tspan font-size="21.0">Т</tspan>ранец</text><path d="M 814.9 606.4 L 873.4 605.9" stroke="#666" stroke-width="1.4" fill="none" /><path d="M 814.9 606.4 L 658.6 628.7" stroke="#555" stroke-width="1.2" fill="none" /><text x="815.1" y="633.4" font-size="17.5" textLength="141.0" lengthAdjust="spacingAndGlyphs"><tspan font-size="21.0">Б</tspan>анка (сидение)</text><path d="M 815.2 639.4 L 956.1 638.3" stroke="#666" stroke-width="1.4" fill="none" /><path d="M 815.2 639.4 L 617.3 661.5" stroke="#555" stroke-width="1.2" fill="none" /><text x="815.4" y="666.4" font-size="17.5" textLength="68.5" lengthAdjust="spacingAndGlyphs"><tspan font-size="21.0">К</tspan>осынка</text><path d="M 812.4 671.4 L 883.9 670.9" stroke="#666" stroke-width="1.4" fill="none" /><path d="M 812.4 671.4 L 679.1 698.5" stroke="#555" stroke-width="1.2" fill="none" /><text x="42.5" y="805.8" font-size="17.5" textLength="228.0" lengthAdjust="spacingAndGlyphs"><tspan font-size="21.0">Д</tspan>ержатель универсальный</text><path d="M 37.5 808.8 L 275.0 806.9" stroke="#666" stroke-width="1.4" fill="none" /><path d="M 275.0 806.9 L 320.3 657.5" stroke="#555" stroke-width="1.2" fill="none" /><text x="505.0" y="801.0" font-size="17.5" textLength="47.5" lengthAdjust="spacingAndGlyphs"><tspan font-size="21.0">В</tspan>есло</text><path d="M 500.0 807.0 L 555.0 806.6" stroke="#666" stroke-width="1.4" fill="none" /><path d="M 500.0 807.0 L 460.6 699.3" stroke="#555" stroke-width="1.2" fill="none" /><text x="603.5" y="802.2" font-size="17.5" textLength="151.5" lengthAdjust="spacingAndGlyphs"><tspan font-size="21.0">Д</tspan>ержатель весла</text><path d="M 600.0 806.7 L 756.5 805.4" stroke="#666" stroke-width="1.4" fill="none" /><path d="M 600.0 806.7 L 529.1 700.8" stroke="#555" stroke-width="1.2" fill="none" /></g></g>
</svg></body></html>
